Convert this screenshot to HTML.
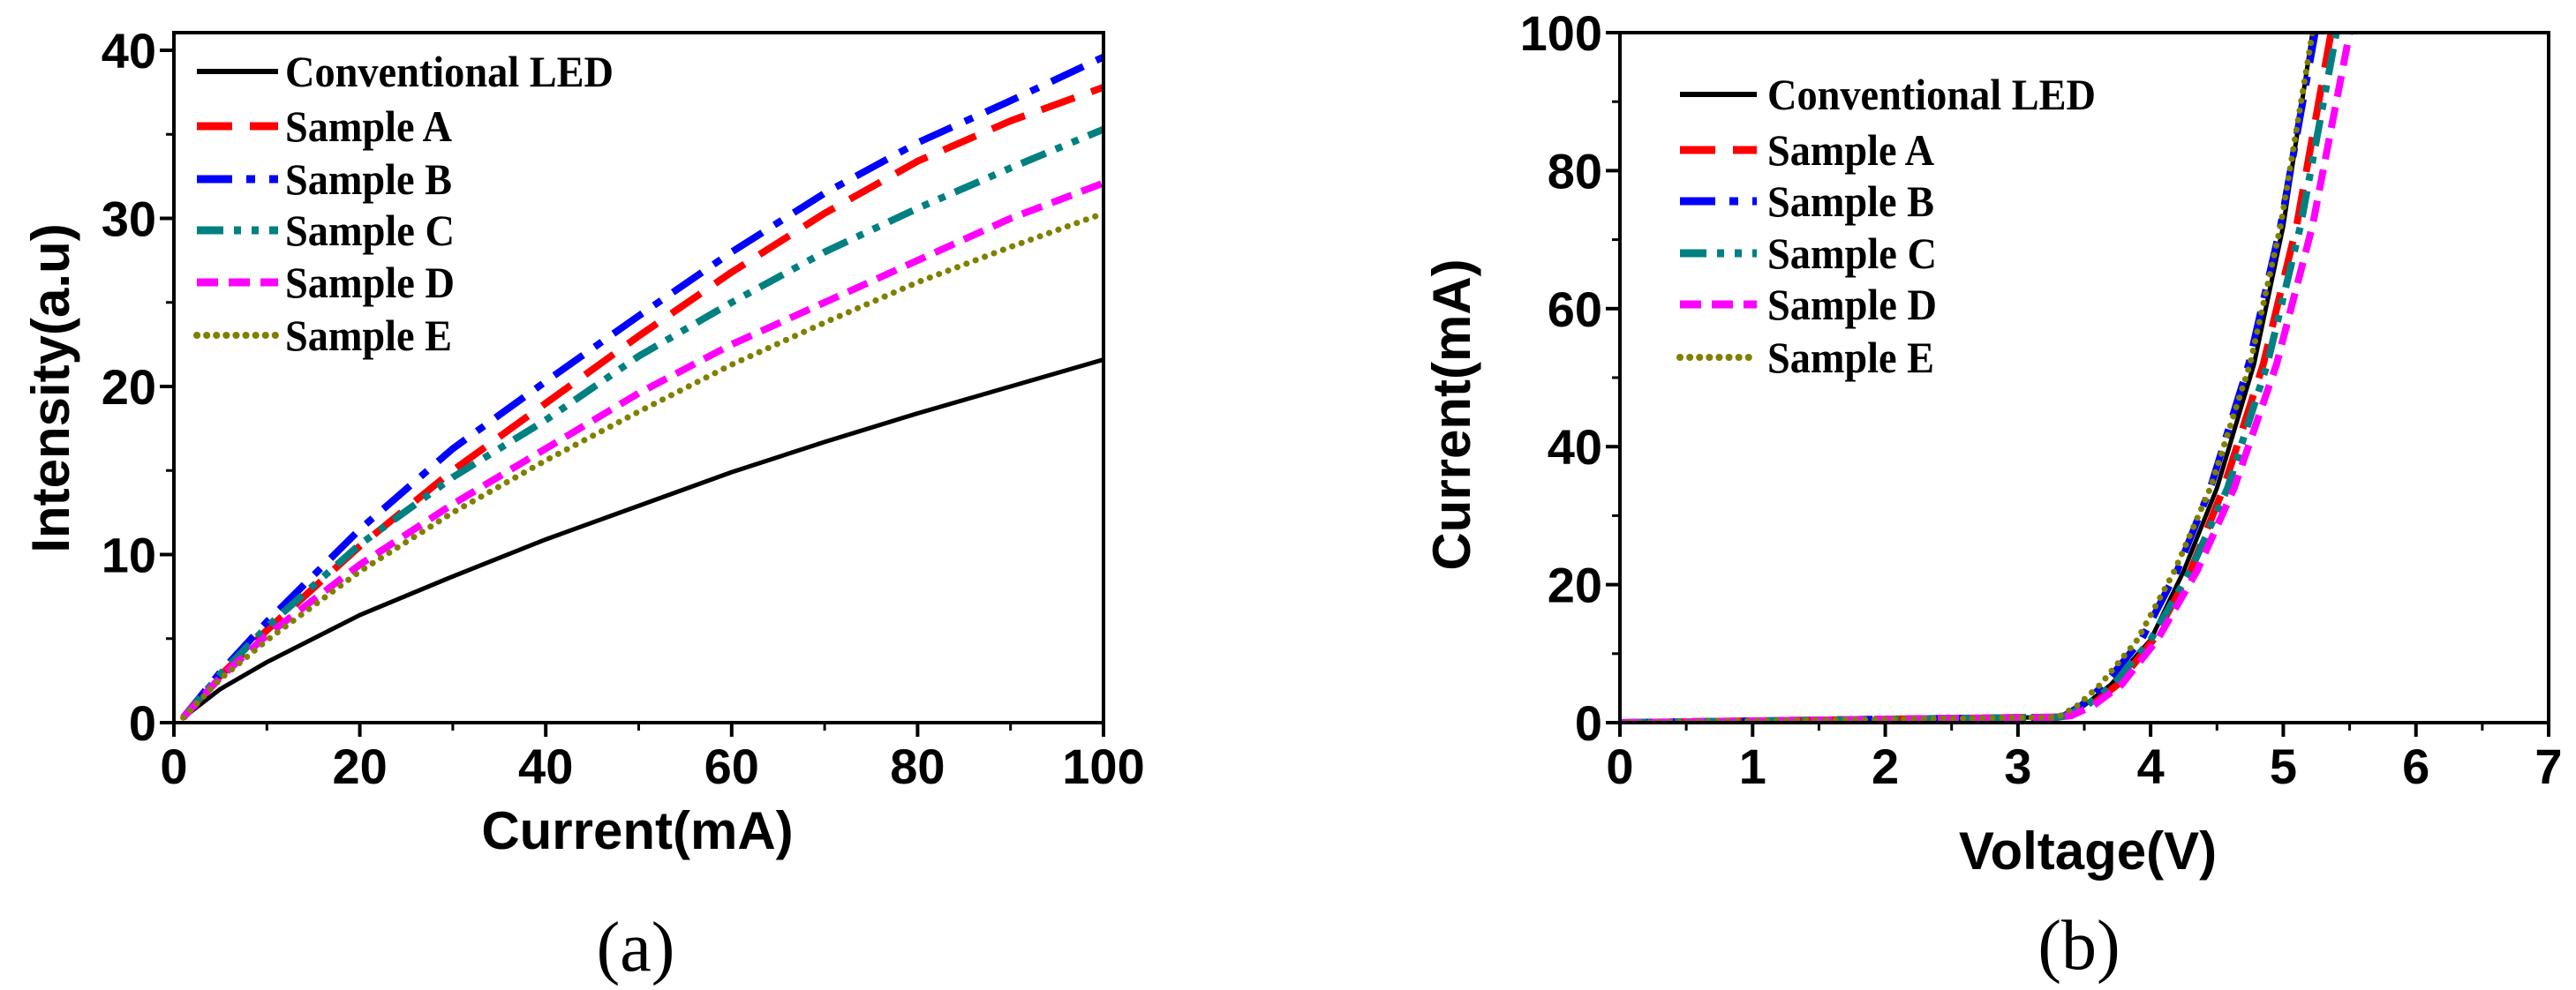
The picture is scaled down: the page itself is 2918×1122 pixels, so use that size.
<!DOCTYPE html>
<html><head><meta charset="utf-8"><style>
body{margin:0;background:#fff}
svg{display:block}
.tk{font-family:"Liberation Sans",Arial,sans-serif;font-weight:bold;font-size:56px;fill:#000}
.ti{font-family:"Liberation Sans",Arial,sans-serif;font-weight:bold;font-size:60px;fill:#000}
.lg{font-family:"Liberation Serif",serif;font-weight:bold;font-size:50px;fill:#000}
.cap{font-family:"Liberation Serif",serif;font-size:80px;fill:#000}
</style></head><body>
<svg id="fig" width="2918" height="1122" viewBox="0 0 2918 1122"></svg>
<script>
// Panel (a) data
const aCurrent=[1,5,10,20,30,40,50,60,70,80,90,100];
const aConv=[0.3,2,3.6,6.4,8.7,10.9,12.9,14.9,16.7,18.4,20,21.6];
const aA=[0.3,2.8,5.5,10.5,15,19,23,26.8,30.3,33.4,35.8,37.8];
const aB=[0.3,3,6,11.5,16.3,20.3,24.2,28,31.5,34.5,37,39.6];
const aC=[0.3,2.9,5.7,10.6,14.6,18,21.8,25,28,30.6,33,35.3];
const aD=[0.3,2.7,5.2,9.4,13,16.3,19.6,22.5,25,27.5,30,32.1];
const aE=[0.3,2.6,4.9,9,12.5,15.6,18.5,21.3,23.8,26.2,28.3,30.3];
const aXTicks=[0,20,40,60,80,100];
const aYTicks=[0,10,20,30,40];
// Panel (b) data
const bCurrent=[0,0.5,0.8,1,2.5,5.5,12,22,34,52,72,100];
const bConv=[0,2,3.3,3.35,3.5,3.7,4.0,4.25,4.5,4.78,5.0,5.22];
const bA=[0,2,3.3,3.38,3.55,3.75,4.02,4.3,4.55,4.85,5.1,5.36];
const bB=[0,2,3.3,3.35,3.48,3.65,3.93,4.2,4.45,4.74,4.98,5.24];
const bC=[0,2,3.3,3.37,3.52,3.72,4.0,4.3,4.58,4.88,5.13,5.4];
const bD=[0,2,3.3,3.4,3.57,3.78,4.05,4.35,4.63,4.95,5.22,5.5];
const bE=[0,2,3.3,3.32,3.45,3.62,3.9,4.18,4.45,4.75,4.98,5.22];
const bXTicks=[0,1,2,3,4,5,6,7];
const bYTicks=[0,20,40,60,80,100];
const names=["Conventional LED","Sample A","Sample B","Sample C","Sample D","Sample E"];
const legLens=[372,189,189,192,192,189];

const NS="http://www.w3.org/2000/svg";
const svg=document.getElementById('fig');
function mk(tag,attrs,parent){const e=document.createElementNS(NS,tag);for(const k in attrs)e.setAttribute(k,attrs[k]);(parent||svg).appendChild(e);return e;}
const styles=[
 {c:"#000",d:"none",w:5,cap:"butt"},
 {c:"#ff0000",d:"40 20",w:8,cap:"butt"},
 {c:"#0000ff",d:"40 16 10 16",w:8,cap:"butt"},
 {c:"#008080",d:"30 12 8 12 8 12",w:8,cap:"butt"},
 {c:"#ff00ff",d:"24 12",w:8,cap:"butt"},
 {c:"#808000",d:"0.1 11",w:7,cap:"round"}];
const keys=["conventional","sample-a","sample-b","sample-c","sample-d","sample-e"];

function panel(o){
  const g=mk('g',{});
  
  
  const sx=v=>o.L+(v-o.x0)/(o.x1-o.x0)*(o.R-o.L);
  const sy=v=>o.B-(v-o.y0)/(o.y1-o.y0)*(o.B-o.Y1);
  const cid='clip-'+o.id;
  const cp=mk('clipPath',{id:cid},g);mk('rect',{x:o.L,y:o.T,width:o.R-o.L,height:o.B-o.T},cp);
  const sg=mk('g',{'clip-path':'url(#'+cid+')'},g);
  o.series.forEach((s,i)=>{
    let pts=o.xs?o.xs.map((x,j)=>sx(x)+','+sy(s[j])):o.ys.map((y,j)=>sx(s[j])+','+sy(y));
    const st=styles[i];
    const p=mk('polyline',{points:pts.join(' '),fill:'none',stroke:st.c,'stroke-width':st.w,'stroke-dasharray':st.d,'stroke-linecap':st.cap,'stroke-linejoin':'round'},sg);
    
    
  });
  const fr=mk('rect',{x:o.L,y:o.T,width:o.R-o.L,height:o.B-o.T,fill:'none',stroke:'#000','stroke-width':4},g);
  
  
  const xt=mk('g',{},g);
  
  
  o.xt.forEach((v,i)=>{
    const x=sx(v);
    mk('line',{x1:x,x2:x,y1:o.B,y2:o.B+16,stroke:'#000','stroke-width':4},xt);
    if(i<o.xt.length-1){const m=sx((v+o.xt[i+1])/2);mk('line',{x1:m,x2:m,y1:o.B,y2:o.B+9,stroke:'#000','stroke-width':3},xt);}
    const t=mk('text',{x:x,y:o.B+69,'text-anchor':'middle',class:'tk'},xt);t.textContent=v;
    
    
  });
  const yt=mk('g',{},g);
  
  
  o.yt.forEach((v,i)=>{
    const y=sy(v);
    mk('line',{x1:o.L-16,x2:o.L,y1:y,y2:y,stroke:'#000','stroke-width':4},yt);
    if(i<o.yt.length-1){const m=sy((v+o.yt[i+1])/2);mk('line',{x1:o.L-9,x2:o.L,y1:m,y2:m,stroke:'#000','stroke-width':3},yt);}
    const t=mk('text',{x:o.L-20,y:y+20,'text-anchor':'end',class:'tk'},yt);t.textContent=v;
    
    
  });
  const xl=mk('text',{x:o.xlx,y:o.xly,'text-anchor':'middle',class:'ti'},g);xl.textContent=o.xl;
  
  
  const yl=mk('text',{x:0,y:0,'text-anchor':'middle',class:'ti',transform:'translate('+o.ylx+','+o.yly+') rotate(-90)'},g);yl.textContent=o.yl;
  
  
  const cap=mk('text',{x:o.capx,y:o.capy,'text-anchor':'middle',class:'cap'},g);cap.textContent=o.cap;
  
  
  const lg=mk('g',{},g);
  
  
  names.forEach((n,i)=>{
    const y=o.legY[i];const st=styles[i];
    const e=mk('g',{},lg);
    
    
    mk('line',{x1:o.legX1,x2:o.legX2,y1:y,y2:y,stroke:st.c,'stroke-width':st.w+1,'stroke-dasharray':st.d,'stroke-linecap':st.cap},e);
    const t=mk('text',{x:o.legT,y:y+17,class:'lg',textLength:legLens[i]*o.legS,lengthAdjust:'spacingAndGlyphs'},e);t.textContent=n;
  });
}
panel({id:'panel-a',L:197,R:1250,T:37,B:819,Y1:57,x0:0,x1:100,y0:0,y1:40,xs:aCurrent,series:[aConv,aA,aB,aC,aD,aE],
  xt:aXTicks,yt:aYTicks,xl:'Current(mA)',xlx:722,xly:962,yl:'Intensity(a.u)',ylx:78,yly:440,cap:'(a)',capx:720,capy:1100,
  legY:[81,143,203,261,320,380],legX1:223,legX2:315,legT:323,legS:1});
panel({id:'panel-b',L:1835,R:2887,T:37,B:819,Y1:37,x0:0,x1:7,y0:0,y1:100,ys:bCurrent,series:[bConv,bA,bB,bC,bD,bE],
  xt:bXTicks,yt:bYTicks,xl:'Voltage(V)',xlx:2365,xly:985,yl:'Current(mA)',ylx:1665,yly:470,cap:'(b)',capx:2355,capy:1098,
  legY:[107,170,228,287,345,405],legX1:1903,legX2:1990,legT:2002,legS:1.0});
</script>
</body></html>
